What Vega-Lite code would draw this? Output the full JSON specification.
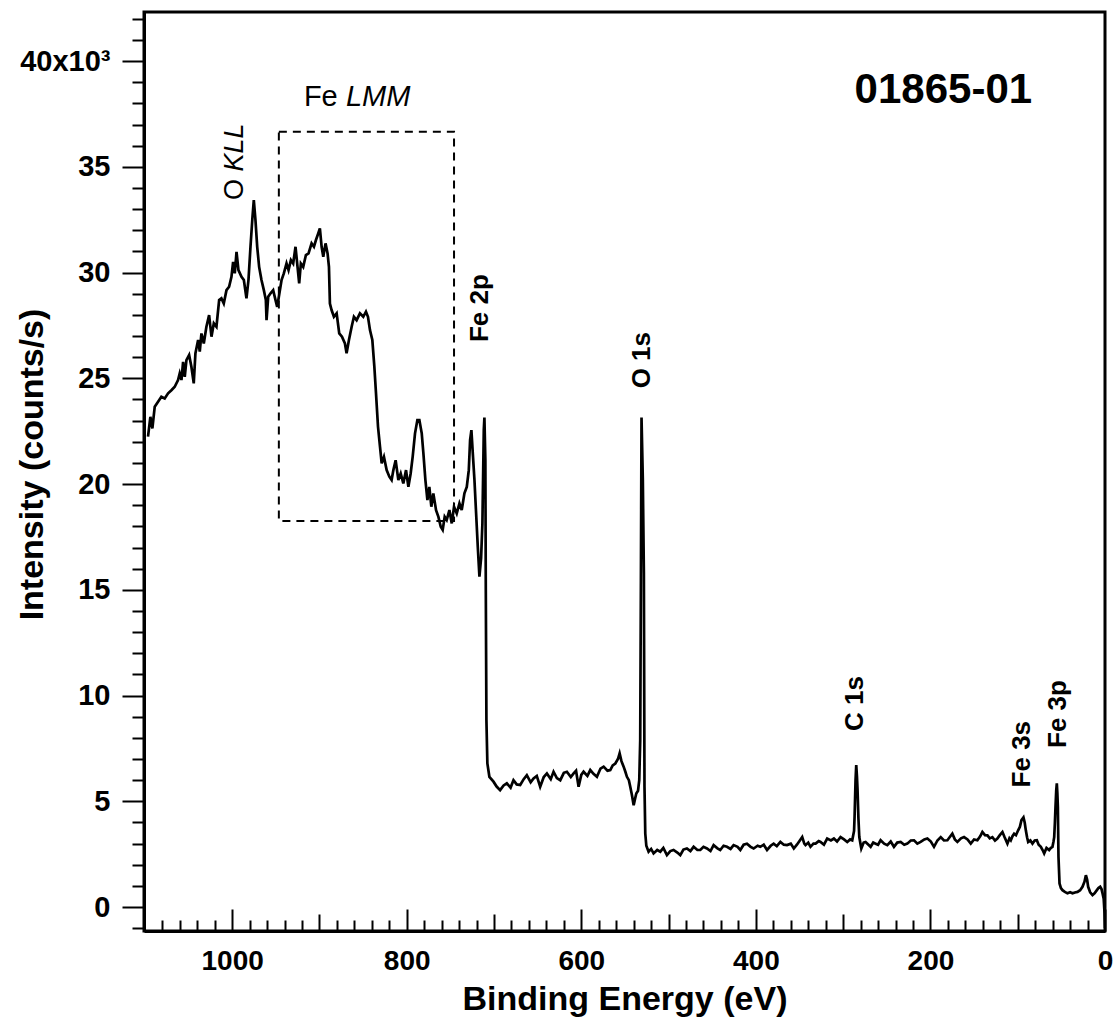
{
  "$schema": "https://vega.github.io/schema/vega-lite/v6.json",
  "width": 961,
  "height": 919,
  "autosize": "none",
  "padding": {"left": 144, "top": 12, "right": 10, "bottom": 89},
  "background": "white",
  "config": {
    "view": {"stroke": "black", "strokeWidth": 3},
    "font": "Liberation Sans",
    "axis": {"grid": false, "tickColor": "black", "domainColor": "black", "labelColor": "black", "titleColor": "black", "labelFont": "Liberation Sans", "titleFont": "Liberation Sans"}
  },
  "datasets": {
    "spectrum": [
      {"be":1096.4,"cps":22240},{"be":1093.7,"cps":23180},{"be":1091.4,"cps":22630},{"be":1088.7,"cps":23660},{"be":1084.9,"cps":23890},{"be":1081.1,"cps":24130},{"be":1077.3,"cps":24050},{"be":1073.4,"cps":24290},{"be":1069.6,"cps":24440},{"be":1065.8,"cps":24600},{"be":1062.0,"cps":24920},{"be":1060.1,"cps":25230},{"be":1058.1,"cps":24920},{"be":1056.2,"cps":25780},{"be":1054.3,"cps":25070},{"be":1052.4,"cps":25860},{"be":1049.3,"cps":26100},{"be":1046.7,"cps":25550},{"be":1044.0,"cps":24760},{"be":1042.1,"cps":26180},{"be":1039.0,"cps":26810},{"be":1037.1,"cps":26260},{"be":1035.2,"cps":27120},{"be":1032.5,"cps":26650},{"be":1029.5,"cps":27440},{"be":1026.4,"cps":27990},{"be":1023.7,"cps":26970},{"be":1021.0,"cps":27600},{"be":1018.0,"cps":27440},{"be":1014.9,"cps":28700},{"be":1012.3,"cps":28780},{"be":1009.6,"cps":28540},{"be":1006.5,"cps":29170},{"be":1003.5,"cps":29330},{"be":1000.8,"cps":29800},{"be":998.9,"cps":30510},{"be":997.0,"cps":29960},{"be":995.0,"cps":30980},{"be":992.8,"cps":30120},{"be":989.3,"cps":29800},{"be":986.6,"cps":29650},{"be":983.6,"cps":28780},{"be":981.3,"cps":29650},{"be":979.0,"cps":31220},{"be":976.7,"cps":32640},{"be":975.2,"cps":33430},{"be":973.3,"cps":32480},{"be":971.3,"cps":31220},{"be":969.1,"cps":30270},{"be":966.4,"cps":29650},{"be":963.7,"cps":29170},{"be":961.4,"cps":28700},{"be":960.6,"cps":27750},{"be":958.7,"cps":28860},{"be":956.0,"cps":29020},{"be":953.0,"cps":29170},{"be":950.3,"cps":28700},{"be":948.4,"cps":28380},{"be":946.5,"cps":28860},{"be":943.4,"cps":29650},{"be":940.8,"cps":29960},{"be":937.7,"cps":30430},{"be":935.4,"cps":30120},{"be":932.7,"cps":30590},{"be":930.1,"cps":30430},{"be":927.4,"cps":31220},{"be":925.1,"cps":30270},{"be":923.2,"cps":29490},{"be":921.3,"cps":30430},{"be":918.6,"cps":30270},{"be":915.5,"cps":30830},{"be":912.5,"cps":30910},{"be":909.0,"cps":31380},{"be":906.3,"cps":31220},{"be":904.0,"cps":31540},{"be":901.4,"cps":31850},{"be":899.5,"cps":32090},{"be":897.5,"cps":31220},{"be":895.6,"cps":30750},{"be":893.0,"cps":31380},{"be":890.7,"cps":30910},{"be":889.1,"cps":30270},{"be":888.0,"cps":28540},{"be":886.1,"cps":28230},{"be":883.4,"cps":27910},{"be":880.3,"cps":28070},{"be":877.3,"cps":27120},{"be":874.2,"cps":26970},{"be":870.8,"cps":26650},{"be":868.9,"cps":26180},{"be":866.2,"cps":26810},{"be":863.1,"cps":27440},{"be":860.5,"cps":27910},{"be":857.4,"cps":27750},{"be":853.6,"cps":28070},{"be":849.8,"cps":27910},{"be":846.7,"cps":28150},{"be":844.4,"cps":27910},{"be":842.1,"cps":27280},{"be":839.4,"cps":26810},{"be":837.1,"cps":25550},{"be":835.2,"cps":24290},{"be":832.9,"cps":22710},{"be":830.6,"cps":21760},{"be":828.7,"cps":20980},{"be":826.1,"cps":21290},{"be":823.0,"cps":20660},{"be":819.9,"cps":20350},{"be":817.3,"cps":20190},{"be":815.3,"cps":20660},{"be":812.7,"cps":21130},{"be":809.6,"cps":20190},{"be":806.9,"cps":20500},{"be":803.9,"cps":20030},{"be":800.8,"cps":20660},{"be":798.1,"cps":19870},{"be":795.5,"cps":20500},{"be":793.2,"cps":21290},{"be":790.5,"cps":22400},{"be":787.8,"cps":23030},{"be":785.5,"cps":23030},{"be":782.8,"cps":22400},{"be":780.9,"cps":21450},{"be":778.6,"cps":20190},{"be":776.3,"cps":19240},{"be":774.1,"cps":19870},{"be":771.8,"cps":18930},{"be":769.5,"cps":19560},{"be":766.4,"cps":18770},{"be":763.7,"cps":18450},{"be":761.0,"cps":17980},{"be":758.8,"cps":17830},{"be":756.5,"cps":18450},{"be":754.2,"cps":18300},{"be":751.1,"cps":18770},{"be":748.4,"cps":18140},{"be":745.8,"cps":18930},{"be":742.7,"cps":18610},{"be":739.6,"cps":19090},{"be":737.0,"cps":18770},{"be":733.9,"cps":19560},{"be":731.2,"cps":19870},{"be":728.9,"cps":20660},{"be":727.4,"cps":22080},{"be":725.9,"cps":22550},{"be":724.3,"cps":21450},{"be":722.4,"cps":20190},{"be":720.5,"cps":18610},{"be":718.6,"cps":17040},{"be":716.7,"cps":15620},{"be":714.8,"cps":16500},{"be":713.3,"cps":18140},{"be":711.7,"cps":22550},{"be":711.0,"cps":23150},{"be":709.9,"cps":21130},{"be":709.4,"cps":14990},{"be":708.7,"cps":8840},{"be":707.6,"cps":6790},{"be":705.3,"cps":6160},{"be":700.6,"cps":5930},{"be":697,"cps":5700},{"be":693.0,"cps":5530},{"be":689,"cps":5750},{"be":685.3,"cps":5850},{"be":681,"cps":5650},{"be":677.7,"cps":6000},{"be":674,"cps":5800},{"be":670.0,"cps":5770},{"be":666,"cps":6050},{"be":662.4,"cps":6240},{"be":658,"cps":5900},{"be":654.7,"cps":6080},{"be":651,"cps":6200},{"be":647.1,"cps":5690},{"be":643,"cps":6150},{"be":639.4,"cps":6320},{"be":635,"cps":6050},{"be":631.8,"cps":6400},{"be":628,"cps":6100},{"be":624.1,"cps":6000},{"be":620,"cps":6350},{"be":616.5,"cps":6400},{"be":612,"cps":6150},{"be":608.8,"cps":6320},{"be":606,"cps":6450},{"be":603.1,"cps":5690},{"be":600,"cps":6250},{"be":597.4,"cps":6400},{"be":593,"cps":6200},{"be":589.7,"cps":6480},{"be":586,"cps":6300},{"be":582.1,"cps":6160},{"be":578,"cps":6550},{"be":574.4,"cps":6640},{"be":570,"cps":6450},{"be":566.8,"cps":6480},{"be":564,"cps":6700},{"be":561.0,"cps":6790},{"be":558,"cps":7000},{"be":556.1,"cps":7270},{"be":554,"cps":6900},{"be":551.5,"cps":6640},{"be":549.5,"cps":6400},{"be":547.7,"cps":6160},{"be":545.5,"cps":6000},{"be":543.9,"cps":5690},{"be":542,"cps":5300},{"be":540.0,"cps":4820},{"be":538.5,"cps":5100},{"be":537.0,"cps":5370},{"be":535,"cps":5500},{"be":533.6,"cps":6000},{"be":532.5,"cps":7890},{"be":531.7,"cps":15460},{"be":531.0,"cps":23150},{"be":529.5,"cps":20200},{"be":528.3,"cps":15780},{"be":527.6,"cps":5690},{"be":526.7,"cps":3480},{"be":525.5,"cps":2900},{"be":522.9,"cps":2620},{"be":520,"cps":2750},{"be":517.2,"cps":2540},{"be":513,"cps":2700},{"be":509.5,"cps":2620},{"be":506,"cps":2800},{"be":501.9,"cps":2460},{"be":498,"cps":2650},{"be":494.3,"cps":2700},{"be":490,"cps":2580},{"be":486.6,"cps":2460},{"be":483,"cps":2720},{"be":479.0,"cps":2770},{"be":475,"cps":2650},{"be":471.3,"cps":2850},{"be":467,"cps":2700},{"be":463.7,"cps":2700},{"be":460,"cps":2850},{"be":456.0,"cps":2770},{"be":452,"cps":2650},{"be":448.4,"cps":2930},{"be":444,"cps":2780},{"be":440.8,"cps":2700},{"be":437,"cps":2900},{"be":433.1,"cps":2850},{"be":429,"cps":2750},{"be":425.5,"cps":2930},{"be":421,"cps":2850},{"be":417.8,"cps":2700},{"be":414,"cps":2950},{"be":410.2,"cps":3000},{"be":406,"cps":2850},{"be":402.5,"cps":2770},{"be":398,"cps":2900},{"be":394.9,"cps":2850},{"be":391,"cps":2950},{"be":387.2,"cps":2700},{"be":383,"cps":2900},{"be":379.6,"cps":3000},{"be":376,"cps":2880},{"be":371.9,"cps":3080},{"be":368,"cps":2950},{"be":364.3,"cps":2930},{"be":360,"cps":3000},{"be":356.5,"cps":2770},{"be":353,"cps":2950},{"be":350.8,"cps":3080},{"be":346.9,"cps":3310},{"be":344.5,"cps":3000},{"be":343.1,"cps":2930},{"be":340,"cps":3050},{"be":337.4,"cps":2850},{"be":334,"cps":3000},{"be":331.6,"cps":3000},{"be":328,"cps":3120},{"be":325.9,"cps":3080},{"be":322,"cps":2950},{"be":318.3,"cps":3240},{"be":314,"cps":3150},{"be":310.6,"cps":3240},{"be":307,"cps":3100},{"be":303.0,"cps":3310},{"be":299,"cps":3200},{"be":295.3,"cps":3080},{"be":292,"cps":3200},{"be":289.6,"cps":3160},{"be":287.5,"cps":3600},{"be":286.9,"cps":4270},{"be":285.8,"cps":6000},{"be":285.0,"cps":6710},{"be":284.2,"cps":6200},{"be":283.5,"cps":5530},{"be":282.5,"cps":4200},{"be":281.5,"cps":3310},{"be":279.2,"cps":2770},{"be":276.5,"cps":3050},{"be":274.3,"cps":3080},{"be":271,"cps":2950},{"be":268.5,"cps":2850},{"be":265.5,"cps":3050},{"be":262.8,"cps":3000},{"be":260,"cps":2950},{"be":257.1,"cps":3160},{"be":253,"cps":3000},{"be":249.4,"cps":2930},{"be":245.5,"cps":3100},{"be":241.8,"cps":2850},{"be":238,"cps":3050},{"be":234.1,"cps":3080},{"be":230,"cps":2950},{"be":226.5,"cps":3000},{"be":222.5,"cps":3150},{"be":218.8,"cps":3160},{"be":215,"cps":3000},{"be":211.2,"cps":3080},{"be":207,"cps":3200},{"be":203.5,"cps":3240},{"be":199.5,"cps":3100},{"be":195.9,"cps":2850},{"be":192,"cps":3150},{"be":188.2,"cps":3310},{"be":184.5,"cps":3150},{"be":180.6,"cps":3160},{"be":178,"cps":3300},{"be":174.9,"cps":3470},{"be":172,"cps":3200},{"be":169.1,"cps":3080},{"be":165,"cps":3250},{"be":161.5,"cps":3310},{"be":157.5,"cps":3200},{"be":153.8,"cps":3000},{"be":150,"cps":3200},{"be":146.2,"cps":3160},{"be":143,"cps":3350},{"be":140.5,"cps":3550},{"be":137.5,"cps":3400},{"be":134.7,"cps":3390},{"be":132,"cps":3250},{"be":129.0,"cps":3310},{"be":126,"cps":3150},{"be":123.3,"cps":3240},{"be":120.5,"cps":3400},{"be":117.5,"cps":3550},{"be":115,"cps":3300},{"be":111.8,"cps":3000},{"be":109.5,"cps":3250},{"be":107.9,"cps":3160},{"be":106,"cps":3350},{"be":104.1,"cps":3470},{"be":102,"cps":3400},{"be":99.5,"cps":3630},{"be":97.5,"cps":3800},{"be":95.7,"cps":4110},{"be":93.4,"cps":4240},{"be":92,"cps":4000},{"be":90.7,"cps":3630},{"be":89.3,"cps":3300},{"be":88.0,"cps":3080},{"be":85.5,"cps":3150},{"be":83.1,"cps":3000},{"be":80.5,"cps":3150},{"be":78.1,"cps":3160},{"be":76,"cps":2950},{"be":73.5,"cps":2850},{"be":71.5,"cps":2700},{"be":69.7,"cps":2540},{"be":67,"cps":2800},{"be":64.0,"cps":2700},{"be":62,"cps":2800},{"be":60.2,"cps":2850},{"be":59,"cps":3100},{"be":58.2,"cps":3310},{"be":57.4,"cps":4000},{"be":56.7,"cps":4740},{"be":55.9,"cps":5500},{"be":55.2,"cps":5850},{"be":54.6,"cps":5400},{"be":54.0,"cps":4740},{"be":53.3,"cps":2380},{"be":52.1,"cps":1120},{"be":50.5,"cps":900},{"be":48.7,"cps":800},{"be":46,"cps":720},{"be":43.0,"cps":650},{"be":40,"cps":700},{"be":37.2,"cps":650},{"be":34.5,"cps":690},{"be":31.5,"cps":720},{"be":28.5,"cps":800},{"be":25.8,"cps":960},{"be":23.5,"cps":1200},{"be":21.9,"cps":1510},{"be":20.5,"cps":1300},{"be":19.3,"cps":960},{"be":17,"cps":700},{"be":14.3,"cps":570},{"be":12,"cps":650},{"be":9.3,"cps":800},{"be":7.5,"cps":900},{"be":5.5,"cps":960},{"be":4,"cps":850},{"be":2.8,"cps":650},{"be":1.5,"cps":400},{"be":0.5,"cps":-300},{"be":0,"cps":-1000}
    ]
  },
  "layer": [
    {
      "data": {"name": "spectrum"},
      "mark": {"type": "line", "color": "black", "strokeWidth": 2.7, "clip": true},
      "encoding": {
        "x": {
          "field": "be", "type": "quantitative",
          "scale": {"domain": [0, 1101], "reverse": true, "nice": false, "zero": false},
          "axis": {
            "orient": "bottom", "values": [0, 200, 400, 600, 800, 1000], "format": "d",
            "tickSize": -22, "tickWidth": 2, "labelPadding": 38, "labelFontSize": 28, "labelFontWeight": "bold",
            "labelFlush": false, "labelOverlap": false,
            "domain": true, "domainWidth": 3,
            "title": "Binding Energy (eV)", "titleFontSize": 34, "titleFontWeight": "bold",
            "titleY": 78, "titleBaseline": "alphabetic"
          }
        },
        "y": {
          "field": "cps", "type": "quantitative",
          "scale": {"domain": [-1130, 42320], "nice": false, "zero": false},
          "axis": {
            "orient": "left", "values": [0, 5000, 10000, 15000, 20000, 25000, 30000, 35000, 40000],
            "labelExpr": "datum.value == 40000 ? '40x10³' : format(datum.value / 1000, 'd')",
            "tickSize": 22, "tickWidth": 2, "labelPadding": 12, "labelFontSize": 29, "labelFontWeight": "bold",
            "labelFlush": false, "labelOverlap": false,
            "domain": true, "domainWidth": 3,
            "title": "Intensity (counts/s)", "titleFontSize": 34, "titleFontWeight": "bold",
            "titleAngle": 270, "titleX": -102, "titleY": 452, "titleBaseline": "alphabetic", "titleAlign": "center"
          }
        }
      }
    },
    {
      "data": {"values": [{}]},
      "mark": {"type": "point", "opacity": 0},
      "encoding": {
        "x": {"datum": 500, "type": "quantitative", "axis": {
          "orient": "bottom",
          "values": [20,40,60,80,120,140,160,180,220,240,260,280,320,340,360,380,420,440,460,480,520,540,560,580,620,640,660,680,720,740,760,780,820,840,860,880,920,940,960,980,1020,1040,1060,1080],
          "tickSize": -11, "tickWidth": 2, "labels": false, "domain": false, "title": null}},
        "y": {"datum": 0, "type": "quantitative", "axis": {
          "orient": "left",
          "values": [-1000,1000,2000,3000,4000,6000,7000,8000,9000,11000,12000,13000,14000,16000,17000,18000,19000,21000,22000,23000,24000,26000,27000,28000,29000,31000,32000,33000,34000,36000,37000,38000,39000,41000,42000],
          "tickSize": 12, "tickWidth": 2, "labels": false, "domain": false, "title": null}}
      }
    },
    {
      "data": {"values": [{}]},
      "mark": {"type": "point", "opacity": 0},
      "encoding": {
        "x": {"datum": 500, "type": "quantitative", "axis": {
          "orient": "bottom", "values": [100, 300, 500, 700, 900],
          "tickSize": -17, "tickWidth": 2, "labels": false, "domain": false, "title": null}},
        "y": {"datum": 0, "type": "quantitative", "axis": null}
      }
    },
    {
      "data": {"values": [{"be_start": 946.5, "be_end": 745.8, "cps_low": 18260, "cps_high": 36660}]},
      "mark": {"type": "rect", "filled": false, "color": "black", "strokeWidth": 2, "strokeDash": [8, 6]},
      "encoding": {
        "x": {"field": "be_start", "type": "quantitative", "axis": null},
        "x2": {"field": "be_end"},
        "y": {"field": "cps_low", "type": "quantitative", "axis": null},
        "y2": {"field": "cps_high"}
      }
    },
    {
      "data": {"values": [
        {"label": "Fe 2p", "be": 715.9, "cps": 28320},
        {"label": "O 1s", "be": 530.3, "cps": 25860},
        {"label": "C 1s", "be": 286.4, "cps": 9620},
        {"label": "Fe 3s", "be": 95.4, "cps": 7230},
        {"label": "Fe 3p", "be": 53.5, "cps": 9130}
      ]},
      "mark": {"type": "text", "angle": 270, "align": "center", "baseline": "middle", "fontSize": 26, "fontWeight": "bold", "color": "black"},
      "encoding": {
        "text": {"field": "label"},
        "x": {"field": "be", "type": "quantitative", "axis": null},
        "y": {"field": "cps", "type": "quantitative", "axis": null}
      }
    },
    {
      "data": {"values": [{"label": "O", "be": 996.7, "cps": 33430}]},
      "mark": {"type": "text", "angle": 270, "align": "left", "baseline": "middle", "fontSize": 27, "color": "black"},
      "encoding": {
        "text": {"field": "label"},
        "x": {"field": "be", "type": "quantitative", "axis": null},
        "y": {"field": "cps", "type": "quantitative", "axis": null}
      }
    },
    {
      "data": {"values": [{"label": "KLL", "be": 996.7, "cps": 34780}]},
      "mark": {"type": "text", "angle": 270, "align": "left", "baseline": "middle", "fontSize": 27, "fontStyle": "italic", "color": "black"},
      "encoding": {
        "text": {"field": "label"},
        "x": {"field": "be", "type": "quantitative", "axis": null},
        "y": {"field": "cps", "type": "quantitative", "axis": null}
      }
    },
    {
      "data": {"values": [{"label": "Fe", "be": 917.8, "cps": 37870}]},
      "mark": {"type": "text", "align": "left", "baseline": "alphabetic", "fontSize": 29, "color": "black"},
      "encoding": {
        "text": {"field": "label"},
        "x": {"field": "be", "type": "quantitative", "axis": null},
        "y": {"field": "cps", "type": "quantitative", "axis": null}
      }
    },
    {
      "data": {"values": [{"label": "LMM", "be": 869.6, "cps": 37870}]},
      "mark": {"type": "text", "align": "left", "baseline": "alphabetic", "fontSize": 29, "fontStyle": "italic", "color": "black"},
      "encoding": {
        "text": {"field": "label"},
        "x": {"field": "be", "type": "quantitative", "axis": null},
        "y": {"field": "cps", "type": "quantitative", "axis": null}
      }
    },
    {
      "data": {"values": [{"label": "01865-01", "be": 185.2, "cps": 38030}]},
      "mark": {"type": "text", "align": "center", "baseline": "alphabetic", "fontSize": 42, "fontWeight": "bold", "color": "black"},
      "encoding": {
        "text": {"field": "label"},
        "x": {"field": "be", "type": "quantitative", "axis": null},
        "y": {"field": "cps", "type": "quantitative", "axis": null}
      }
    }
  ],
  "resolve": {"axis": {"x": "independent", "y": "independent"}}
}
